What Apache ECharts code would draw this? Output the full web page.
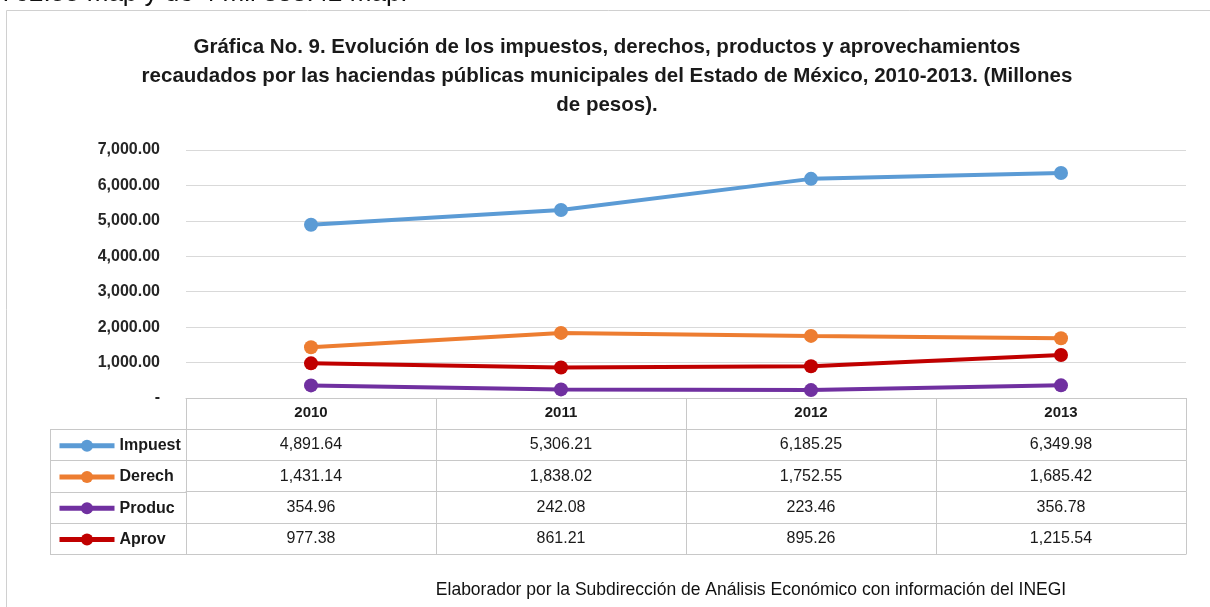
<!DOCTYPE html>
<html>
<head>
<meta charset="utf-8">
<script src="https://cdn.jsdelivr.net/npm/echarts@6/dist/echarts.min.js"></script>
<style>
html,body{margin:0;padding:0;background:#fff;}
#c{width:1210px;height:607px;}
</style>
</head>
<body>
<div id="c"></div>
<script>
const years = ['2010', '2011', '2012', '2013'];
const seriesNames = ['Impuest', 'Derech', 'Produc', 'Aprov'];
const impuest = [4891.64, 5306.21, 6185.25, 6349.98];
const derech = [1431.14, 1838.02, 1752.55, 1685.42];
const produc = [354.96, 242.08, 223.46, 356.78];
const aprov = [977.38, 861.21, 895.26, 1215.54];
const yTicks = [0, 1000, 2000, 3000, 4000, 5000, 6000, 7000];
const titleLines = [
  'Gráfica No. 9. Evolución de los impuestos, derechos, productos y aprovechamientos',
  'recaudados por las haciendas públicas municipales del Estado de México, 2010-2013. (Millones',
  'de pesos).'
];
const footerText = 'Elaborador por la Subdirección de Análisis Económico con información del INEGI';
const topText = '762.88 map y de 4 mil 333.42 map.';

const allValues = [impuest, derech, produc, aprov];
const colors = ['#5B9BD5', '#ED7D31', '#7030A0', '#C00000'];
const FONT = '"Liberation Sans", Arial, sans-serif';
const fmt = v => v.toLocaleString('en-US', {minimumFractionDigits: 2, maximumFractionDigits: 2});

const gridLeft = 186, gridRight = 24, gridTop = 150, gridBottomY = 398;
const headerH = 31, rowH = 31.3;
const borderColor = '#C8C8C8';

const chart = echarts.init(document.getElementById('c'), null, {renderer: 'canvas'});

const xAxes = [];
xAxes.push({
  type: 'category', data: years, position: 'bottom', gridIndex: 0, offset: 0,
  boundaryGap: true,
  axisLine: {show: true, lineStyle: {color: borderColor, width: 1}},
  axisTick: {show: true, interval: 0, length: headerH, lineStyle: {color: borderColor, width: 1}},
  axisLabel: {show: true, interval: 0, margin: 7, fontFamily: FONT, fontSize: 15, fontWeight: 'bold', color: '#1a1a1a'},
  splitLine: {show: false}
});
allValues.forEach((vals, k) => {
  xAxes.push({
    type: 'category', data: years, position: 'bottom', gridIndex: 0,
    offset: headerH + k * rowH,
    boundaryGap: true,
    axisLine: {show: true, lineStyle: {color: borderColor, width: 1}},
    axisTick: {show: true, interval: 0, length: rowH, lineStyle: {color: borderColor, width: 1}},
    axisLabel: {show: true, interval: 0, margin: 8, fontFamily: FONT, fontSize: 16, color: '#1a1a1a',
      formatter: (v, i) => fmt(vals[i])},
    splitLine: {show: false}
  });
});
xAxes.push({
  type: 'category', data: years, position: 'bottom', gridIndex: 0,
  offset: headerH + 4 * rowH,
  axisLine: {show: true, lineStyle: {color: borderColor, width: 1}},
  axisTick: {show: false}, axisLabel: {show: false}, splitLine: {show: false}
});

const tableTop = gridBottomY + headerH;
const tableBottom = gridBottomY + headerH + 4 * rowH;
const leftColX = 50;
const graphics = [];
graphics.push({type: 'text', left: 0, top: -19, silent: true,
  style: {text: topText, font: '26px ' + FONT, fill: '#111'}});
graphics.push({type: 'rect', silent: true, shape: {x: 6.5, y: 10.5, width: 1300, height: 700},
  style: {fill: 'none', stroke: '#D0D0D0', lineWidth: 1}});
titleLines.forEach((t, i) => {
  graphics.push({type: 'text', silent: true, x: 607, y: 47.5 + i * 28.7,
    style: {text: t, font: 'bold 20.5px ' + FONT, fill: '#1a1a1a', textAlign: 'center', textVerticalAlign: 'middle'}});
});
for (let k = 0; k <= 4; k++) {
  const y = Math.round(tableTop + k * rowH) + 0.5;
  graphics.push({type: 'line', silent: true, shape: {x1: leftColX, y1: y, x2: gridLeft, y2: y},
    style: {stroke: borderColor, lineWidth: 1}});
}
graphics.push({type: 'line', silent: true,
  shape: {x1: leftColX + 0.5, y1: tableTop, x2: leftColX + 0.5, y2: tableBottom},
  style: {stroke: borderColor, lineWidth: 1}});
graphics.push({type: 'text', silent: true, x: 751, y: 590,
  style: {text: footerText, font: '17.5px ' + FONT, fill: '#111', textAlign: 'center', textVerticalAlign: 'middle'}});

const option = {
  backgroundColor: '#ffffff',
  animation: false,
  grid: {left: gridLeft, right: gridRight, top: gridTop, bottom: 607 - gridBottomY, containLabel: false},
  legend: {
    data: seriesNames, orient: 'vertical', left: 52, top: tableTop + (rowH - 16) / 2 - 4,
    itemWidth: 55, itemHeight: 15, itemGap: rowH - 16,
    lineStyle: {width: 5},
    textStyle: {fontFamily: FONT, fontSize: 16, fontWeight: 'bold', color: '#1a1a1a', lineHeight: 16},
    selectedMode: false
  },
  xAxis: xAxes,
  yAxis: {
    type: 'value', min: 0, max: 7000, interval: 1000,
    axisLine: {show: false}, axisTick: {show: false},
    axisLabel: {fontFamily: FONT, fontSize: 16, fontWeight: 'bold', color: '#262626', margin: 26,
      formatter: v => v === 0 ? '-' : fmt(v)},
    splitLine: {lineStyle: {color: '#D9D9D9', width: 1}}
  },
  series: seriesNames.map((n, k) => ({
    name: n, type: 'line', data: allValues[k], xAxisIndex: 0,
    symbol: 'circle', symbolSize: 14,
    lineStyle: {color: colors[k], width: 4},
    itemStyle: {color: colors[k]},
    z: 10 - k
  })),
  graphic: graphics
};
chart.setOption(option);
</script>
</body>
</html>
